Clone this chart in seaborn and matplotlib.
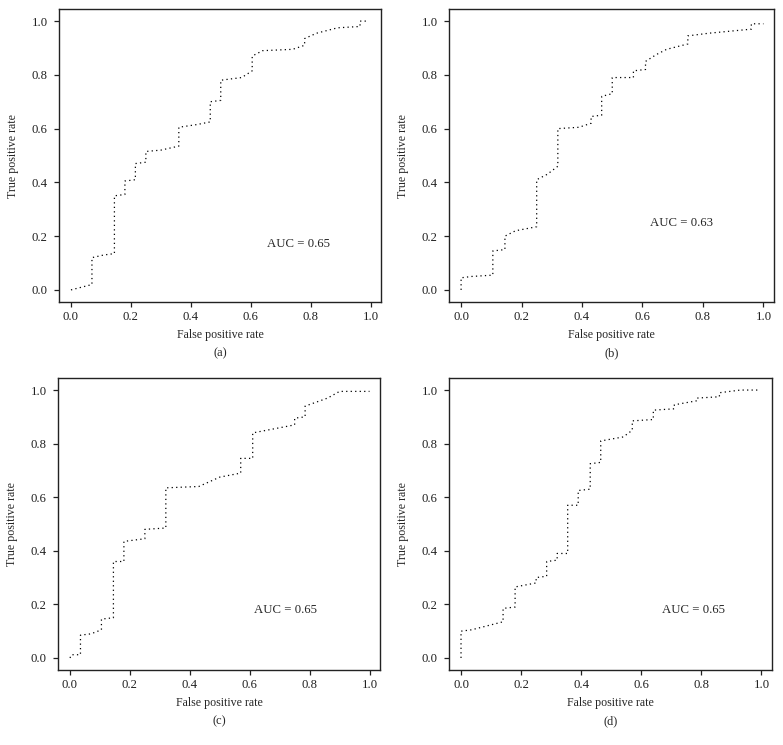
import matplotlib
matplotlib.use("Agg")
import matplotlib.pyplot as plt
import seaborn as sns

# ROC curve vertices
fpr_a = [0, 0.035, 0.07, 0.07, 0.11, 0.145, 0.145, 0.18, 0.18, 0.215, 0.215, 0.25, 0.25, 0.30, 0.36, 0.36,
         0.42, 0.465, 0.465, 0.50, 0.50, 0.57, 0.605, 0.605, 0.64, 0.74, 0.78, 0.78, 0.82, 0.89, 0.965, 0.965, 0.99]
tpr_a = [0, 0.01, 0.02, 0.12, 0.13, 0.135, 0.35, 0.355, 0.405, 0.41, 0.47, 0.475, 0.515, 0.52, 0.535, 0.605,
         0.615, 0.625, 0.70, 0.705, 0.78, 0.79, 0.815, 0.87, 0.89, 0.895, 0.91, 0.935, 0.955, 0.975, 0.98, 1.0, 1.0]

fpr_b = [0, 0, 0.035, 0.105, 0.105, 0.145, 0.145, 0.18, 0.25, 0.25, 0.285, 0.32, 0.32, 0.39, 0.43, 0.43,
         0.465, 0.465, 0.50, 0.50, 0.57, 0.57, 0.61, 0.61, 0.645, 0.68, 0.75, 0.75, 0.82, 0.96, 0.96, 1.0]
tpr_b = [0, 0.045, 0.05, 0.055, 0.145, 0.15, 0.20, 0.22, 0.235, 0.41, 0.43, 0.46, 0.60, 0.605, 0.62, 0.645,
         0.65, 0.72, 0.73, 0.79, 0.79, 0.815, 0.82, 0.85, 0.875, 0.895, 0.915, 0.945, 0.955, 0.97, 0.99, 0.99]

fpr_c = [0, 0.005, 0.035, 0.035, 0.07, 0.105, 0.105, 0.145, 0.145, 0.18, 0.18, 0.25, 0.25, 0.32, 0.32,
         0.43, 0.50, 0.57, 0.57, 0.61, 0.61, 0.68, 0.75, 0.75, 0.785, 0.785, 0.86, 0.90, 1.0]
tpr_c = [0, 0.012, 0.012, 0.085, 0.09, 0.105, 0.145, 0.15, 0.36, 0.36, 0.435, 0.445, 0.48, 0.485, 0.635,
         0.64, 0.675, 0.69, 0.745, 0.745, 0.84, 0.855, 0.87, 0.895, 0.90, 0.94, 0.97, 0.995, 0.995]

fpr_d = [0, 0, 0.035, 0.14, 0.14, 0.18, 0.18, 0.25, 0.25, 0.285, 0.285, 0.32, 0.32, 0.355, 0.355, 0.39,
         0.39, 0.43, 0.43, 0.465, 0.465, 0.54, 0.57, 0.57, 0.64, 0.64, 0.71, 0.71, 0.785, 0.785, 0.86, 0.86, 0.93, 0.99]
tpr_d = [0, 0.10, 0.105, 0.135, 0.185, 0.19, 0.265, 0.28, 0.30, 0.305, 0.36, 0.365, 0.39, 0.39, 0.57, 0.57,
         0.625, 0.63, 0.725, 0.73, 0.81, 0.825, 0.85, 0.885, 0.89, 0.925, 0.93, 0.945, 0.96, 0.97, 0.975, 0.99, 1.0, 1.0]

auc_labels = ["AUC = 0.65", "AUC = 0.63", "AUC = 0.65", "AUC = 0.65"]
auc_pos = [(0.76, 0.17), (0.73, 0.25), (0.72, 0.18), (0.775, 0.18)]
panel_tags = ["(a)", "(b)", "(c)", "(d)"]
ticks = [0.0, 0.2, 0.4, 0.6, 0.8, 1.0]

sns.set_theme(style="ticks")
plt.rcParams["font.family"] = ["Liberation Serif", "DejaVu Serif"]
plt.rcParams["font.size"] = 9

W, H = 783, 745
fig = plt.figure(figsize=(W / 100, H / 100), dpi=100)

# axes boxes in pixels: left, top, right, bottom
boxes = [(59, 9, 381, 302), (449, 9, 774, 302), (58, 378, 380, 670), (449, 378, 772, 670)]
curves = [(fpr_a, tpr_a), (fpr_b, tpr_b), (fpr_c, tpr_c), (fpr_d, tpr_d)]

for i, (box, (fx, ty)) in enumerate(zip(boxes, curves)):
    l, t, r, b = box
    w, h = r - l, b - t
    ax = fig.add_axes([l / W, (H - b) / H, w / W, h / H])
    sns.lineplot(x=fx, y=ty, sort=False, estimator=None, ax=ax, color="black",
                 linewidth=0.9, linestyle=(0, (1, 2.6)))
    ax.set_xlim(-0.04, 1.035)
    ax.set_ylim(-0.045, 1.045)
    ax.set_xticks(ticks)
    ax.set_yticks(ticks)
    ax.set_xticklabels([f"{v:.1f}" for v in ticks])
    ax.set_yticklabels([f"{v:.1f}" for v in ticks])
    ax.tick_params(length=3.6, width=0.9, labelsize=9.2, colors="#222222")
    ax.tick_params(axis="x", pad=3)
    ax.tick_params(axis="y", pad=4.5)
    for s in ax.spines.values():
        s.set_visible(True)
        s.set_linewidth(1.0)
        s.set_color("#222222")
    ax.set_xlabel("False positive rate", fontsize=8.6)
    ax.set_ylabel("True positive rate", fontsize=8.6)
    ax.xaxis.label.set_va("center")
    ax.yaxis.label.set_va("center")
    ax.xaxis.set_label_coords(0.5, -33 / h)
    ax.yaxis.set_label_coords(-46 / w, 0.5)
    ax.text(auc_pos[i][0], auc_pos[i][1], auc_labels[i], ha="center", va="center", fontsize=9.2)
    cx = (l + r) / 2 / W
    fig.text(cx, (H - (b + 51)) / H, panel_tags[i], ha="center", va="center", fontsize=9)

fig.savefig("out.png", dpi=100)
